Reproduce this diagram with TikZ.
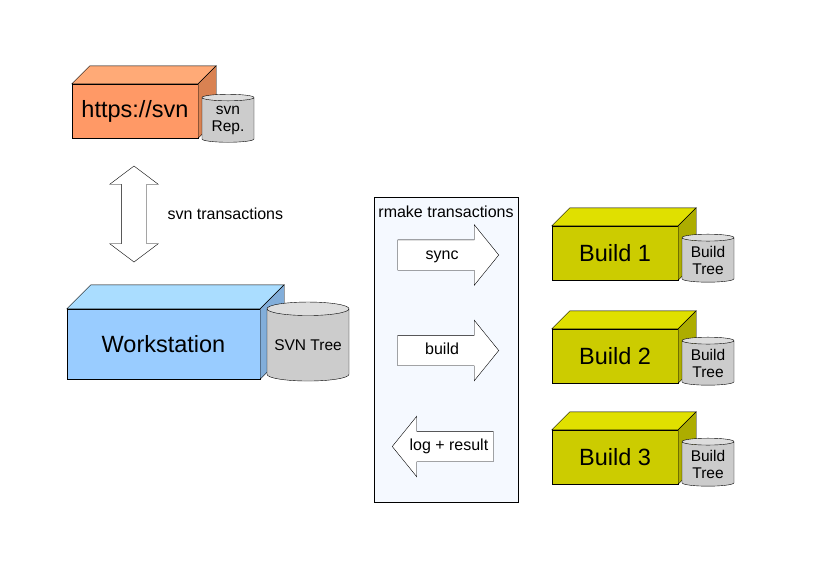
\documentclass[tikz,border=0pt]{standalone}
\usepackage{fontspec}
\setmainfont{Liberation Sans}
\usepackage{xcolor}
\usetikzlibrary{positioning,shapes.geometric,shapes.arrows}

\definecolor{svnfront}{HTML}{FF9966}
\definecolor{svntop}{HTML}{FFAA77}
\definecolor{svnside}{HTML}{D98252}
\definecolor{wsfront}{HTML}{99CCFF}
\definecolor{wstop}{HTML}{AADDFF}
\definecolor{wsside}{HTML}{82AEDA}
\definecolor{bldfront}{HTML}{CCCC00}
\definecolor{bldtop}{HTML}{E0E000}
\definecolor{bldside}{HTML}{ADAD00}
\definecolor{canbody}{HTML}{CCCCCC}
\definecolor{cantop}{HTML}{DDDDDD}
\definecolor{rmakebg}{HTML}{F5F9FF}

% top and right faces of a box node: name, depth, top colour, side colour
\newcommand{\boxfaces}[4]{%
  \filldraw[fill=#3] (#1.north west) -- ([shift={(#2,-#2)}]#1.north west)
    -- ([shift={(#2,-#2)}]#1.north east) -- (#1.north east) -- cycle;
  \filldraw[fill=#4] (#1.north east) -- ([shift={(#2,-#2)}]#1.north east)
    -- ([shift={(#2,-#2)}]#1.south east) -- (#1.south east) -- cycle;
}

\begin{document}
\begin{tikzpicture}[x=1pt, y=-1pt]
    \tikzset{box/.style={draw, inner sep=0pt, font=\fontsize{23.5}{27}\selectfont}}
    \tikzset{small/.style={font=\fontsize{16}{17}\selectfont}}
    \tikzset{can/.style={cylinder, shape border rotate=90, draw, aspect=0.2,
        cylinder uses custom fill, cylinder body fill=canbody, cylinder end fill=cantop,
        inner sep=0pt, align=center, font=\fontsize{15.5}{17}\selectfont}}
    \tikzset{fat/.style={single arrow, draw, fill=white, small, inner xsep=2pt, inner ysep=7.5pt,
        text height=11.5pt, text depth=3.5pt, minimum height=101pt,
        single arrow head extend=15pt, single arrow tip angle=102}}

    \useasboundingbox (0,0) rectangle (816,568);

    % repository
    \node [box, fill=svnfront, minimum width=126pt, minimum height=54pt] (svn) at (135,111) {https://svn};
    \boxfaces{svn}{18}{svntop}{svnside}
    \node [can, minimum width=52pt, minimum height=48pt] (rep) at (228,120) {svn\\Rep.};

    \node [double arrow, draw, fill=white, rotate=90, inner xsep=0pt, inner ysep=12.5pt,
        minimum height=96pt, double arrow head extend=11.5pt, double arrow tip angle=106] (svntx) at (134,214) {};
    \node [small, anchor=west] (svntxt) at (164,214) {svn transactions};

    % workstation
    \node [box, fill=wsfront, minimum width=193pt, minimum height=70pt] (ws) at (163.5,344) {Workstation};
    \boxfaces{ws}{24}{wstop}{wsside}
    \node [can, minimum width=82pt, minimum height=79pt] (wstree) at (308,345) {SVN Tree};

    % rmake
    \node [draw, fill=rmakebg, minimum width=144pt, minimum height=305pt] (rmake) at (446,349.5) {};
    \node [small, inner sep=0pt] (rmaketxt) at (446,212) {rmake transactions};
    \node [fat, anchor=tip] (sync) at (499,255) {sync};
    \node [fat, anchor=tip] (build) at (499,350.5) {build};
    \node [fat, anchor=tip, shape border rotate=180] (log) at (392,446.5) {log + result};

    % build hosts
    \node [box, fill=bldfront, minimum width=126pt, minimum height=54pt] (b1) at (615,253) {Build 1};
    \boxfaces{b1}{18}{bldtop}{bldside}
    \node [can, minimum width=52pt, minimum height=48pt] (t1) at (708,260) {Build\\Tree};

    \node [box, fill=bldfront, minimum width=126pt, minimum height=54pt] (b2) at (615,356) {Build 2};
    \boxfaces{b2}{18}{bldtop}{bldside}
    \node [can, minimum width=52pt, minimum height=48pt] (t2) at (708,363) {Build\\Tree};

    \node [box, fill=bldfront, minimum width=126pt, minimum height=54pt] (b3) at (615,457) {Build 3};
    \boxfaces{b3}{18}{bldtop}{bldside}
    \node [can, minimum width=52pt, minimum height=48pt] (t3) at (708,464) {Build\\Tree};
\end{tikzpicture}
\end{document}
